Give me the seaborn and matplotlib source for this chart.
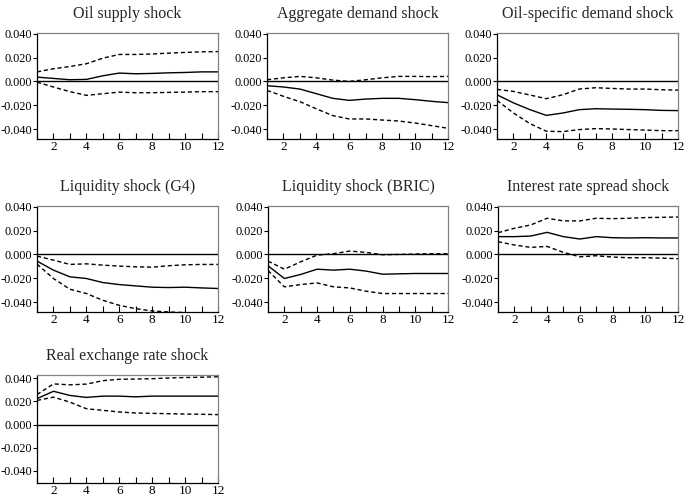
import matplotlib
matplotlib.use("Agg")
import matplotlib.pyplot as plt
import seaborn as sns
import pandas as pd
from matplotlib.ticker import MultipleLocator, FixedLocator

periods = list(range(1, 13))

titles = ["Oil supply shock", "Aggregate demand shock", "Oil-specific demand shock",
          "Liquidity shock (G4)", "Liquidity shock (BRIC)", "Interest rate spread shock",
          "Real exchange rate shock"]

oil_supply_irf = [0.0036, 0.0025, 0.0014, 0.0017, 0.0047, 0.0070, 0.0064, 0.0067, 0.0072, 0.0075, 0.0080, 0.0080]
oil_supply_hi = [0.0080, 0.0106, 0.0125, 0.0148, 0.0195, 0.0226, 0.0226, 0.0230, 0.0237, 0.0243, 0.0248, 0.0250]
oil_supply_lo = [-0.0006, -0.0047, -0.0086, -0.0117, -0.0103, -0.0090, -0.0095, -0.0095, -0.0092, -0.0090, -0.0086, -0.0086]

agg_irf = [-0.0036, -0.0047, -0.0064, -0.0103, -0.0142, -0.0159, -0.0148, -0.0142, -0.0142, -0.0153, -0.0167, -0.0178]
agg_hi = [0.0014, 0.0030, 0.0042, 0.0030, 0.0011, 0.0000, 0.0014, 0.0030, 0.0042, 0.0042, 0.0040, 0.0042]
agg_lo = [-0.0075, -0.0125, -0.0170, -0.0230, -0.0287, -0.0315, -0.0315, -0.0324, -0.0332, -0.0349, -0.0371, -0.0393]

oilspec_irf = [-0.0112, -0.0180, -0.0237, -0.0285, -0.0265, -0.0237, -0.0229, -0.0232, -0.0234, -0.0237, -0.0243, -0.0245]
oilspec_hi = [-0.0067, -0.0084, -0.0114, -0.0145, -0.0112, -0.0064, -0.0053, -0.0059, -0.0064, -0.0064, -0.0070, -0.0073]
oilspec_lo = [-0.0159, -0.0265, -0.0354, -0.0418, -0.0421, -0.0404, -0.0396, -0.0399, -0.0404, -0.0408, -0.0413, -0.0413]

g4_irf = [-0.0056, -0.0132, -0.0188, -0.0202, -0.0236, -0.0253, -0.0264, -0.0275, -0.0278, -0.0275, -0.0281, -0.0286]
g4_hi = [-0.0014, -0.0048, -0.0084, -0.0079, -0.0090, -0.0098, -0.0104, -0.0107, -0.0095, -0.0087, -0.0084, -0.0084]
g4_lo = [-0.0081, -0.0202, -0.0292, -0.0328, -0.0385, -0.0427, -0.0455, -0.0474, -0.0483, -0.0488, -0.0497, -0.0500]

bric_irf = [-0.0095, -0.0202, -0.0168, -0.0124, -0.0132, -0.0124, -0.0140, -0.0166, -0.0163, -0.0160, -0.0160, -0.0160]
bric_hi = [-0.0056, -0.0124, -0.0062, -0.0006, 0.0006, 0.0028, 0.0017, -0.0003, 0.0000, 0.0003, 0.0006, 0.0006]
bric_lo = [-0.0135, -0.0272, -0.0253, -0.0239, -0.0272, -0.0281, -0.0309, -0.0328, -0.0328, -0.0328, -0.0328, -0.0328]

spread_irf = [0.0149, 0.0149, 0.0154, 0.0185, 0.0149, 0.0129, 0.0149, 0.0140, 0.0138, 0.0140, 0.0138, 0.0138]
spread_hi = [0.0182, 0.0219, 0.0247, 0.0303, 0.0281, 0.0281, 0.0303, 0.0300, 0.0303, 0.0309, 0.0311, 0.0314]
spread_lo = [0.0107, 0.0079, 0.0059, 0.0067, 0.0017, -0.0020, -0.0011, -0.0022, -0.0028, -0.0028, -0.0031, -0.0036]

rer_irf = [0.0224, 0.0288, 0.0252, 0.0235, 0.0246, 0.0246, 0.0240, 0.0246, 0.0246, 0.0246, 0.0246, 0.0246]
rer_hi = [0.0260, 0.0352, 0.0344, 0.0350, 0.0380, 0.0392, 0.0394, 0.0397, 0.0403, 0.0407, 0.0410, 0.0414]
rer_lo = [0.0209, 0.0237, 0.0194, 0.0137, 0.0123, 0.0109, 0.0100, 0.0097, 0.0094, 0.0091, 0.0089, 0.0086]

yticks = [-0.04, -0.02, 0.0, 0.02, 0.04]
ytick_labels = ["-0.040", "-0.020", "0.000", "0.020", "0.040"]
xticks = [2, 4, 6, 8, 10, 12]

series = [
    (oil_supply_irf, oil_supply_hi, oil_supply_lo),
    (agg_irf, agg_hi, agg_lo),
    (oilspec_irf, oilspec_hi, oilspec_lo),
    (g4_irf, g4_hi, g4_lo),
    (bric_irf, bric_hi, bric_lo),
    (spread_irf, spread_hi, spread_lo),
    (rer_irf, rer_hi, rer_lo),
]

sns.set_style("white")
plt.rcParams["font.family"] = ["Liberation Serif", "DejaVu Serif"]

W, H = 685, 499
fig = plt.figure(figsize=(W / 100, H / 100), dpi=100)

# pixel boxes (left, top, right, bottom)
boxes = [
    (37, 33, 218, 139), (267, 33, 448, 139), (497, 33, 678, 139),
    (37, 206, 218, 312), (268, 206, 448, 312), (498, 206, 678, 312),
    (37, 375, 218, 483),
]
ylims = [(-0.0483, 0.0406)] * 6 + [(-0.0506, 0.0429)]

for i, (title, (irf, hi, lo)) in enumerate(zip(titles, series)):
    l, t, r, b = boxes[i]
    ax = fig.add_axes([l / W, 1 - b / H, (r - l) / W, (b - t) / H])
    df = pd.DataFrame({"period": periods, "irf": irf, "hi": hi, "lo": lo})
    ax.axhline(0, color="black", lw=1.0, zorder=1)
    sns.lineplot(data=df, x="period", y="irf", ax=ax, color="black", lw=1.0)
    sns.lineplot(data=df, x="period", y="hi", ax=ax, color="black", lw=1.0, linestyle=(0, (3, 2)))
    sns.lineplot(data=df, x="period", y="lo", ax=ax, color="black", lw=1.0, linestyle=(0, (3, 2)))
    ax.set_xlim(1, 12)
    ax.set_ylim(*ylims[i])
    ax.set_xlabel("")
    ax.set_ylabel("")
    ax.xaxis.set_major_locator(FixedLocator(xticks))
    ax.xaxis.set_minor_locator(MultipleLocator(1))
    ax.set_yticks(yticks)
    ax.set_yticklabels(ytick_labels)
    ax.tick_params(axis="x", which="both", direction="in", length=4, width=0.8,
                   labelsize=9.5, pad=1.5, bottom=True, colors="black")
    ax.tick_params(axis="y", which="major", direction="out", length=3, width=0.8,
                   labelsize=8.8, pad=0.5, left=True, colors="black")
    for side in ["left", "bottom"]:
        ax.spines[side].set_color("black")
        ax.spines[side].set_linewidth(0.9)
    for side in ["top", "right"]:
        ax.spines[side].set_color("#808080")
        ax.spines[side].set_linewidth(0.9)
    ax.set_title(title, fontsize=11.5, pad=11)

fig.savefig("out.png", dpi=100)
